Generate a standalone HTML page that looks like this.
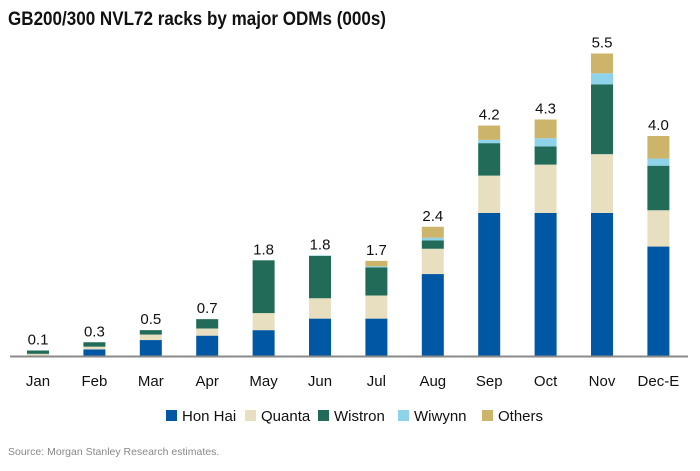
<!DOCTYPE html>
<html><head><meta charset="utf-8"><style>
body{margin:0;background:#fff;width:700px;height:466px;overflow:hidden;font-family:"Liberation Sans",sans-serif}
</style></head><body>
<svg width="700" height="466">
<text x="8" y="25" font-size="19" font-weight="bold" fill="#111" textLength="378" lengthAdjust="spacingAndGlyphs">GB200/300 NVL72 racks by major ODMs (000s)</text>
<g id="bars"></g>
<line x1="10" x2="688" y1="356.5" y2="356.5" stroke="#8a8a8a" stroke-width="2"/>
<g id="legend"></g>
<text x="8" y="455" font-size="10.5" fill="#888">Source: Morgan Stanley Research estimates.</text>
</svg>
<script>
const categories=["Jan","Feb","Mar","Apr","May","Jun","Jul","Aug","Sep","Oct","Nov","Dec-E"];
const honHai=[0.01,0.12,0.29,0.37,0.47,0.68,0.68,1.49,2.6,2.6,2.6,1.99];
const quanta=[0.03,0.05,0.10,0.13,0.31,0.37,0.42,0.46,0.68,0.88,1.07,0.66];
const wistron=[0.06,0.08,0.08,0.17,0.96,0.77,0.51,0.15,0.59,0.33,1.27,0.81];
const wiwynn=[0,0,0,0,0,0.01,0.02,0.05,0.06,0.15,0.2,0.13];
const others=[0,0,0,0,0,0,0.10,0.2,0.26,0.34,0.36,0.41];
const totals=["0.1","0.3","0.5","0.7","1.8","1.8","1.7","2.4","4.2","4.3","5.5","4.0"];
const seriesNames=["Hon Hai","Quanta","Wistron","Wiwynn","Others"];
const colors=["#0057a3","#e8dfc0","#216b58","#8fd3ea","#ccb46a"];
const NS="http://www.w3.org/2000/svg";
const base=356,ppu=55,x0=38,step=56.4,bw=22;
const y=v=>base-v*ppu, x=i=>x0+i*step;
const series=[honHai,quanta,wistron,wiwynn,others];
const g=document.getElementById('bars');
categories.forEach((c,i)=>{
  let acc=0;
  series.forEach((s,k)=>{
    const v=s[i]; if(v<=0) return;
    const r=document.createElementNS(NS,'rect');
    r.setAttribute('x',x(i)-bw/2);r.setAttribute('width',bw);
    r.setAttribute('y',y(acc+v));r.setAttribute('height',v*ppu);
    r.setAttribute('fill',colors[k]);
    
    
    g.appendChild(r); acc+=v;
  });
  const t=document.createElementNS(NS,'text');
  t.setAttribute('x',x(i));t.setAttribute('y',y(acc)-6);
  t.setAttribute('text-anchor','middle');t.setAttribute('font-size','15');t.setAttribute('fill','#111');
  
  
  t.textContent=totals[i];g.appendChild(t);
  const l=document.createElementNS(NS,'text');
  l.setAttribute('x',x(i));l.setAttribute('y',386);
  l.setAttribute('text-anchor','middle');l.setAttribute('font-size','15');l.setAttribute('fill','#111');
  
  
  l.textContent=c;g.appendChild(l);
});
const lg=document.getElementById('legend');
const lx=[166,245,318,398,482];
seriesNames.forEach((n,k)=>{
  const r=document.createElementNS(NS,'rect');
  r.setAttribute('x',lx[k]);r.setAttribute('y',410);r.setAttribute('width',11);r.setAttribute('height',11);
  r.setAttribute('fill',colors[k]);
  
  
  lg.appendChild(r);
  const t=document.createElementNS(NS,'text');
  t.setAttribute('x',lx[k]+16);t.setAttribute('y',421);t.setAttribute('font-size','15');t.setAttribute('fill','#111');
  
  
  t.textContent=n;lg.appendChild(t);
});
</script>
</body></html>
